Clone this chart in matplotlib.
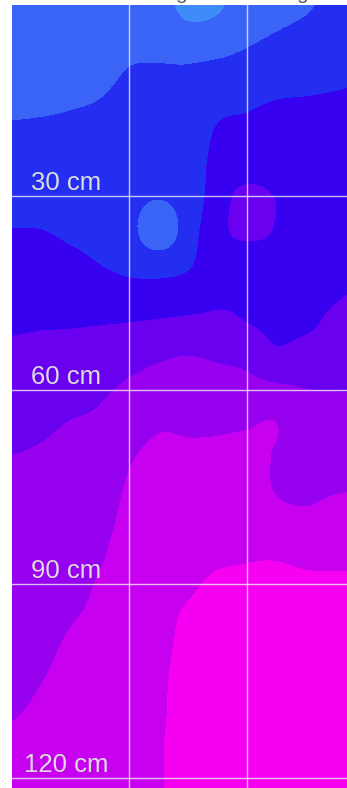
import numpy as np
import matplotlib
matplotlib.use("Agg")
import matplotlib.pyplot as plt
from matplotlib.colors import ListedColormap, BoundaryNorm

# sensor grid: horizontal position (units between probes) and depth (cm)
positions = [0.0, 0.25, 0.5, 0.75, 1.0, 1.25, 1.5, 1.75, 2.0, 2.25, 2.5, 2.75, 3.0]
depths = [0, 5, 10, 15, 20, 25, 30, 35, 40, 45, 50, 55, 60,
          65, 70, 75, 80, 85, 90, 95, 100, 105, 110, 115, 120, 125]

# band index per grid point, one row per depth
moisture = np.array([
    [1.00, 1.00, 1.00, 1.00, 1.10, 0.85, 0.25, 0.35, 0.95, 1.10, 1.35, 1.75, 2.00],
    [1.05, 1.05, 1.05, 1.10, 1.25, 1.00, 0.75, 0.85, 1.28, 1.53, 1.76, 2.03, 2.20],
    [1.20, 1.20, 1.25, 1.30, 1.50, 1.54, 1.54, 1.68, 1.83, 2.01, 2.16, 2.31, 2.40],
    [1.37, 1.38, 1.43, 1.50, 1.66, 1.68, 1.70, 2.19, 2.37, 2.49, 2.52, 2.55, 2.58],
    [1.58, 1.61, 1.64, 1.68, 1.81, 1.83, 1.85, 2.57, 2.61, 2.63, 2.65, 2.69, 2.74],
    [1.89, 1.91, 1.88, 1.88, 1.96, 1.98, 2.00, 2.73, 2.70, 2.76, 2.78, 2.84, 2.90],
    [2.20, 2.20, 2.12, 2.07, 1.95, 1.60, 2.05, 2.89, 3.90, 3.45, 2.91, 2.99, 3.06],
    [2.50, 2.49, 2.35, 2.26, 1.90, 0.55, 2.05, 3.05, 4.00, 3.45, 3.05, 3.13, 3.22],
    [2.81, 2.82, 2.66, 2.46, 2.20, 2.00, 2.30, 3.22, 2.70, 3.17, 3.18, 3.28, 3.38],
    [3.11, 3.14, 3.06, 2.94, 2.84, 2.84, 3.02, 3.38, 3.36, 3.30, 3.31, 3.42, 3.57],
    [3.41, 3.45, 3.46, 3.50, 3.56, 3.66, 3.73, 3.68, 3.54, 3.35, 3.38, 3.69, 3.87],
    [3.69, 3.76, 3.83, 3.94, 4.18, 4.41, 4.54, 4.41, 4.24, 3.70, 3.90, 4.09, 4.18],
    [3.96, 4.06, 4.19, 4.37, 4.67, 4.91, 4.95, 4.90, 4.85, 4.74, 4.52, 4.49, 4.47],
    [4.23, 4.36, 4.52, 4.63, 5.02, 5.37, 5.36, 5.36, 5.41, 5.50, 4.78, 4.79, 4.80],
    [4.50, 4.57, 4.68, 4.82, 5.39, 5.70, 5.63, 5.66, 5.71, 5.45, 5.05, 5.10, 5.14],
    [4.62, 4.70, 4.83, 5.01, 5.60, 5.90, 5.82, 5.89, 5.94, 5.45, 5.31, 5.41, 5.47],
    [4.74, 4.82, 4.98, 5.20, 5.75, 6.05, 6.01, 6.12, 6.18, 5.80, 5.67, 5.82, 5.87],
    [4.87, 4.96, 5.14, 5.39, 5.90, 6.15, 6.21, 6.35, 6.43, 6.40, 6.31, 6.31, 6.29],
    [4.99, 5.09, 5.29, 5.57, 6.00, 6.25, 6.40, 6.60, 6.60, 6.65, 6.60, 6.60, 6.60],
    [5.11, 5.22, 5.45, 5.65, 6.10, 6.30, 6.58, 6.70, 6.70, 6.75, 6.75, 6.75, 6.75],
    [5.23, 5.36, 5.60, 5.75, 6.15, 6.35, 6.65, 6.75, 6.80, 6.80, 6.80, 6.80, 6.80],
    [5.35, 5.49, 5.70, 5.85, 6.20, 6.40, 6.70, 6.80, 6.85, 6.85, 6.85, 6.85, 6.85],
    [5.47, 5.60, 5.80, 5.95, 6.25, 6.42, 6.72, 6.85, 6.85, 6.85, 6.85, 6.85, 6.85],
    [5.60, 5.70, 5.90, 6.05, 6.30, 6.45, 6.75, 6.85, 6.85, 6.85, 6.85, 6.85, 6.85],
    [5.70, 5.80, 6.00, 6.10, 6.30, 6.45, 6.75, 6.85, 6.85, 6.85, 6.85, 6.85, 6.85],
    [5.80, 5.90, 6.10, 6.15, 6.30, 6.45, 6.75, 6.85, 6.85, 6.85, 6.85, 6.85, 6.85],
])

band_edges = [-1.0, 0.5, 1.5, 2.5, 3.5, 4.5, 5.5, 6.5, 8.0]
band_colors = ["#3d8cf7", "#3a64f5", "#232ef0", "#3800f0",
               "#6a00f0", "#9800f0", "#c800f0", "#f500f0"]

depth_marks = [30, 60, 90, 120]
probe_lines = [1, 2]

cmap = ListedColormap(band_colors)
norm = BoundaryNorm(band_edges, cmap.N)

fig = plt.figure(figsize=(3.47, 7.88), dpi=100)
ax = fig.add_axes([12 / 347, 0, 335 / 347, 783 / 788])

half_dx = (positions[1] - positions[0]) / 2
half_dy = (depths[1] - depths[0]) / 2
ax.imshow(moisture, cmap=cmap, norm=norm, aspect="auto",
          interpolation="catrom", interpolation_stage="data",
          extent=[positions[0] - half_dx, positions[-1] + half_dx,
                  depths[-1] + half_dy, depths[0] - half_dy])

ax.set_xlim(0, 2.857)
ax.set_ylim(121.5, 0.46)

for d in depth_marks:
    ax.axhline(d, color="#f0f0f5", alpha=0.8, lw=1.0)
    ax.text(0.46, d - 0.9, f"{d} cm", ha="center", va="baseline",
            fontsize=18.5, color="#dcdcdc", family="Liberation Sans")
for p in probe_lines:
    ax.axvline(p, color="#f0f0f5", alpha=0.8, lw=1.0)

ax.set_axis_off()

# column headers sit above the visible area; only their descenders show
for xp in [181, 302]:
    fig.text(xp / 347, 1 + 1.0 / 788, "g", ha="center", va="baseline",
             fontsize=15, color="#606060", family="Liberation Sans")

fig.savefig("out.png", dpi=100)
